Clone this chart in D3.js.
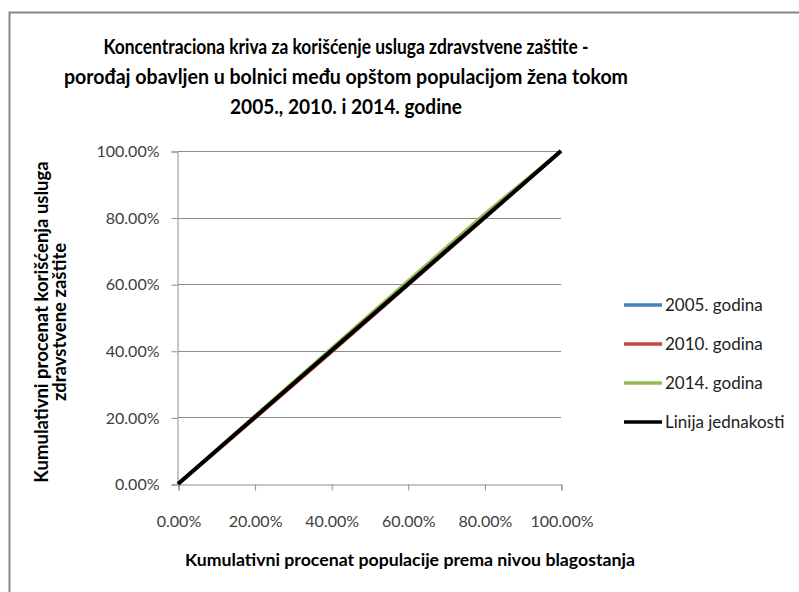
<!DOCTYPE html>
<html>
<head>
<meta charset="utf-8">
<script src="https://cdn.jsdelivr.net/npm/d3@7"></script>
<style>
  body { margin: 0; background: #fff; }
  svg { display: block; }
</style>
</head>
<body>
<svg id="chart" width="799" height="592"></svg>
<script>
  // Data (cumulative shares, quintiles)
  const populationShare = [0, 0.2, 0.4, 0.6, 0.8, 1];
  const values2005 = [0, 0.2005, 0.401, 0.6015, 0.802, 1];
  const values2010 = [0, 0.197, 0.396, 0.597, 0.798, 1];
  const values2014 = [0, 0.203, 0.406, 0.609, 0.81, 1];
  const equalityLine = [0, 1];
  const equalityX = [0, 1];
  const tickValues = [0, 0.2, 0.4, 0.6, 0.8, 1];
  const seriesNames = ["2005. godina", "2010. godina", "2014. godina", "Linija jednakosti"];
  const seriesColors = ["#4a7ebb", "#be4b48", "#98b954", "#000000"];

  const titleLines = [
    "Koncentraciona kriva za korišćenje usluga zdravstvene zaštite -",
    "porođaj obavljen u bolnici među opštom populacijom žena tokom",
    "2005., 2010. i 2014. godine"
  ];
  const yTitleLines = ["Kumulativni procenat korišćenja usluga", "zdravstvene zaštite"];
  const xTitle = "Kumulativni procenat populacije prema nivou blagostanja";

  const width = 799;
  const height = 592;
  const marginLeft = 178;
  const marginRight = 561;
  const marginTop = 151;
  const marginBottom = 484;

  const svg = d3.select("#chart");
  const font = "Lato, 'Liberation Sans', sans-serif";

  // outer chart border (only top and left edges visible)
  svg.append("rect")
    .attr("x", 9.5).attr("y", 12.5)
    .attr("width", 900).attr("height", 700)
    .attr("fill", "none")
    .attr("stroke", "#868686")
    .attr("stroke-width", 2);

  const x = d3.scaleLinear().domain([0, 1]).range([marginLeft, marginRight]);
  const y = d3.scaleLinear().domain([0, 1]).range([marginBottom, marginTop]);
  const fmt = d3.format(".2%");

  // grid lines
  svg.append("g")
    .selectAll("line")
    .data(tickValues.slice(1))
    .join("line")
    .attr("x1", x(0)).attr("x2", x(1))
    .attr("y1", (d) => Math.round(y(d)) + 0.5)
    .attr("y2", (d) => Math.round(y(d)) + 0.5)
    .attr("stroke", "#8c8c8c");

  // axes
  const yAxis = svg.append("g")
    .attr("transform", `translate(${marginLeft - 0.5},0.5)`)
    .call(d3.axisLeft(y).tickValues(tickValues).tickFormat(fmt).tickSize(6).tickPadding(12));
  const xAxis = svg.append("g")
    .attr("transform", `translate(0.5,${marginBottom + 0.5})`)
    .call(d3.axisBottom(x).tickValues(tickValues).tickFormat(fmt).tickSize(6).tickPadding(25));

  [yAxis, xAxis].forEach((g) => {
    g.selectAll(".domain, line").attr("stroke", "#8c8c8c");
    g.selectAll("text")
      .attr("fill", "#404040")
      .style("font-family", font)
      .style("font-size", "16px");
  });

  // series lines
  const allSeries = [
    { xs: populationShare, ys: values2005 },
    { xs: populationShare, ys: values2010 },
    { xs: populationShare, ys: values2014 },
    { xs: equalityX, ys: equalityLine }
  ];
  const line = d3.line().x((d) => x(d[0])).y((d) => y(d[1]));

  svg.append("g")
    .selectAll("path")
    .data(allSeries)
    .join("path")
    .attr("fill", "none")
    .attr("stroke", (d, i) => seriesColors[i])
    .attr("stroke-width", (d, i) => (i === 3 ? 4 : 3.5))
    .attr("stroke-linejoin", "round")
    .attr("d", (d) => line(d.xs.map((v, i) => [v, d.ys[i]])));

  // legend
  const legend = svg.append("g").attr("transform", "translate(624,305)");
  const item = legend.selectAll("g")
    .data(seriesNames)
    .join("g")
    .attr("transform", (d, i) => `translate(0,${i * 39})`);
  item.append("line")
    .attr("x1", 0).attr("x2", 38)
    .attr("stroke", (d, i) => seriesColors[i])
    .attr("stroke-width", 3.5);
  item.append("text")
    .attr("x", 41).attr("dy", "0.35em")
    .attr("fill", "#222")
    .style("font-family", font)
    .style("font-size", "17px")
    .text((d) => d);

  // title, widths fitted to the original
  const titleWidths = [485, 564, 232];
  svg.append("g")
    .selectAll("text")
    .data(titleLines)
    .join("text")
    .attr("x", 346)
    .attr("y", (d, i) => 54 + i * 30)
    .attr("text-anchor", "middle")
    .attr("textLength", (d, i) => titleWidths[i])
    .attr("lengthAdjust", "spacingAndGlyphs")
    .style("font-family", font)
    .style("font-size", "20px")
    .style("font-weight", "bold")
    .text((d) => d);

  // x axis title
  svg.append("text")
    .attr("x", 410).attr("y", 566)
    .attr("text-anchor", "middle")
    .attr("textLength", 450)
    .attr("lengthAdjust", "spacingAndGlyphs")
    .style("font-family", font)
    .style("font-size", "17.5px")
    .style("font-weight", "bold")
    .text(xTitle);

  // y axis title
  svg.append("g")
    .attr("transform", "translate(0,322) rotate(-90)")
    .selectAll("text")
    .data(yTitleLines)
    .join("text")
    .attr("x", 0)
    .attr("y", (d, i) => 48 + i * 18)
    .attr("text-anchor", "middle")
    .style("font-family", font)
    .style("font-size", "18.5px")
    .style("font-weight", "bold")
    .text((d) => d);
</script>
</body>
</html>
